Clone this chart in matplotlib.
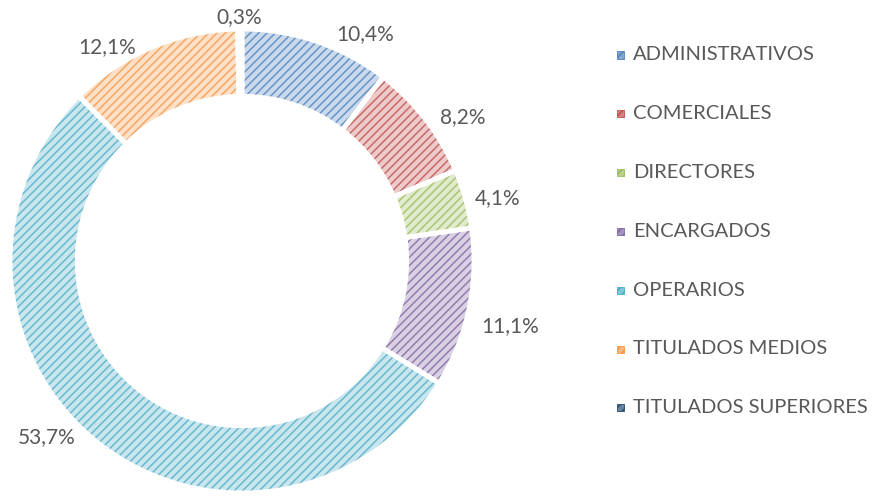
import matplotlib.pyplot as plt
import matplotlib.colors as mcolors
from matplotlib.patches import Rectangle
import numpy as np

categorias = ['ADMINISTRATIVOS', 'COMERCIALES', 'DIRECTORES', 'ENCARGADOS',
              'OPERARIOS', 'TITULADOS MEDIOS', 'TITULADOS SUPERIORES']
porcentajes = [10.4, 8.2, 4.1, 11.1, 53.7, 12.1, 0.3]
etiquetas = ['10,4%', '8,2%', '4,1%', '11,1%', '53,7%', '12,1%', '0,3%']
colores = ['#4F81BD', '#C0504D', '#9BBB59', '#8064A2', '#4BACC6', '#F79646', '#2C4D75']

# where each percentage label sits (in units of the outer radius)
pos_etiquetas = [(0.53, 0.98), (0.95, 0.62), (1.10, 0.27), (1.155, -0.28),
                 (-0.84, -0.76), (-0.58, 0.92), (-0.01, 1.05)]

plt.rcParams['font.family'] = ['Lato', 'DejaVu Sans']
plt.rcParams['hatch.linewidth'] = 1.1
gris = '#595959'

def aclarar(c, f=0.65):
    r, g, b = mcolors.to_rgb(c)
    return (r + (1 - r) * f, g + (1 - g) * f, b + (1 - b) * f)

fondos = [aclarar(c, 0.7) for c in colores]

fig = plt.figure(figsize=(8.73, 4.96), dpi=100)
ax = fig.add_axes([-0.0683, -0.1343, 0.6910, 1.2161])

wedges, _ = ax.pie(porcentajes, colors=fondos, startangle=90, counterclock=False,
                   radius=1, wedgeprops=dict(width=0.29, linewidth=0))
for w, c in zip(wedges, colores):
    w.set_hatch('////')
    w.set_edgecolor(aclarar(c, 0.15))
    w.set_linewidth(0)

# white borders between segments
ax.pie(porcentajes, startangle=90, counterclock=False, radius=1,
       wedgeprops=dict(width=0.29, edgecolor='white', linewidth=3.5, fill=False))

for txt, (x, y) in zip(etiquetas, pos_etiquetas):
    ax.text(x, y, txt, ha='center', va='center', fontsize=15, color=gris)

ax.set_xlim(-1.3, 1.3)
ax.set_ylim(-1.3, 1.3)
ax.axis('off')

# legend
for i, (nombre, c) in enumerate(zip(categorias, colores)):
    yc = 1 - (55 + i * 58.8) / 496
    fig.add_artist(Rectangle((617 / 873, yc - 3.5 / 496), 7 / 873, 7 / 496,
                             transform=fig.transFigure, facecolor=aclarar(c, 0.3),
                             edgecolor=c, linewidth=0.6, hatch='////'))
    fig.text(633 / 873, yc, nombre, ha='left', va='center', fontsize=14.5, color=gris)

plt.savefig('out.png', dpi=100)
